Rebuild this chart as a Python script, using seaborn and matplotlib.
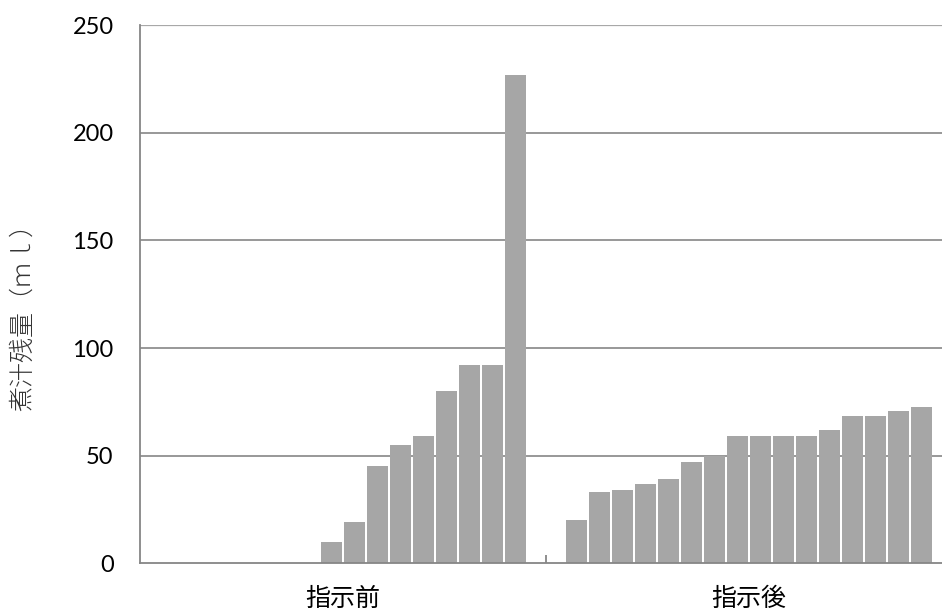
import matplotlib
matplotlib.use("Agg")
import matplotlib.pyplot as plt
import seaborn as sns
import pandas as pd
from matplotlib.ticker import FixedLocator

# Remaining broth volume (ml) per sample, sorted within each phase
groups = ["指示前", "指示後"]
before_values = [0, 0, 0, 0, 0, 0, 0, 10, 19, 45, 55, 59, 80, 92, 92, 227]
after_values = [20, 33, 34, 37, 39, 47, 50, 59, 59, 59, 59, 62, 68.5, 68.5, 71, 72.5]
y_ticks = [0, 50, 100, 150, 200, 250]
y_label = "煮汁残量（ｍｌ）"

sns.set_theme(style="white")
plt.rcParams["font.family"] = ["Noto Sans CJK JP", "DejaVu Sans"]

n = len(before_values)
df = pd.DataFrame({
    "group": [groups[0]] * n + [groups[1]] * n,
    "sample": [f"s{i:02d}" for i in range(n)] * 2,
    "value": before_values + after_values,
})

fig = plt.figure(figsize=(9.42, 6.10), dpi=100)
W, H = 942, 610
ax = fig.add_axes([140 / W, 46.7 / H, 812 / W, 538 / H])

grid_color = "#868686"
for y in y_ticks[1:-1]:
    ax.axhline(y, color=grid_color, lw=1.2, zorder=0)
ax.axhline(y_ticks[-1], color="#a8a8a8", lw=0.9, zorder=0)

sns.barplot(
    data=df, x="group", y="value", hue="sample",
    palette=["#a6a6a6"] * n, width=0.908, gap=0.1,
    linewidth=0, legend=False, ax=ax, zorder=2,
)

ax.set_xlim(-0.5, 1.5)
ax.set_ylim(0, 250)
ax.set_yticks(y_ticks)
ax.set_xlabel("")
ax.set_ylabel(y_label, fontsize=18, color="#333333", fontweight="light")
ax.yaxis.set_label_coords(-0.128, 0.469)

for s in ["top", "right"]:
    ax.spines[s].set_visible(False)
for s in ["left", "bottom"]:
    ax.spines[s].set_color(grid_color)
    ax.spines[s].set_linewidth(1.3)
    ax.spines[s].set_zorder(3)

ax.tick_params(axis="y", length=0, pad=19)
for lbl in ax.get_yticklabels():
    lbl.set_fontfamily("Lato")
    lbl.set_fontsize(17)
    lbl.set_color("black")

ax.tick_params(axis="x", which="major", length=0, pad=16, labelsize=18, labelcolor="black")
ax.xaxis.set_minor_locator(FixedLocator([0.5]))
ax.tick_params(axis="x", which="minor", direction="in", length=5.5, width=1.3,
               color=grid_color, bottom=True)

fig.savefig("out.png", dpi=100, facecolor="white")
